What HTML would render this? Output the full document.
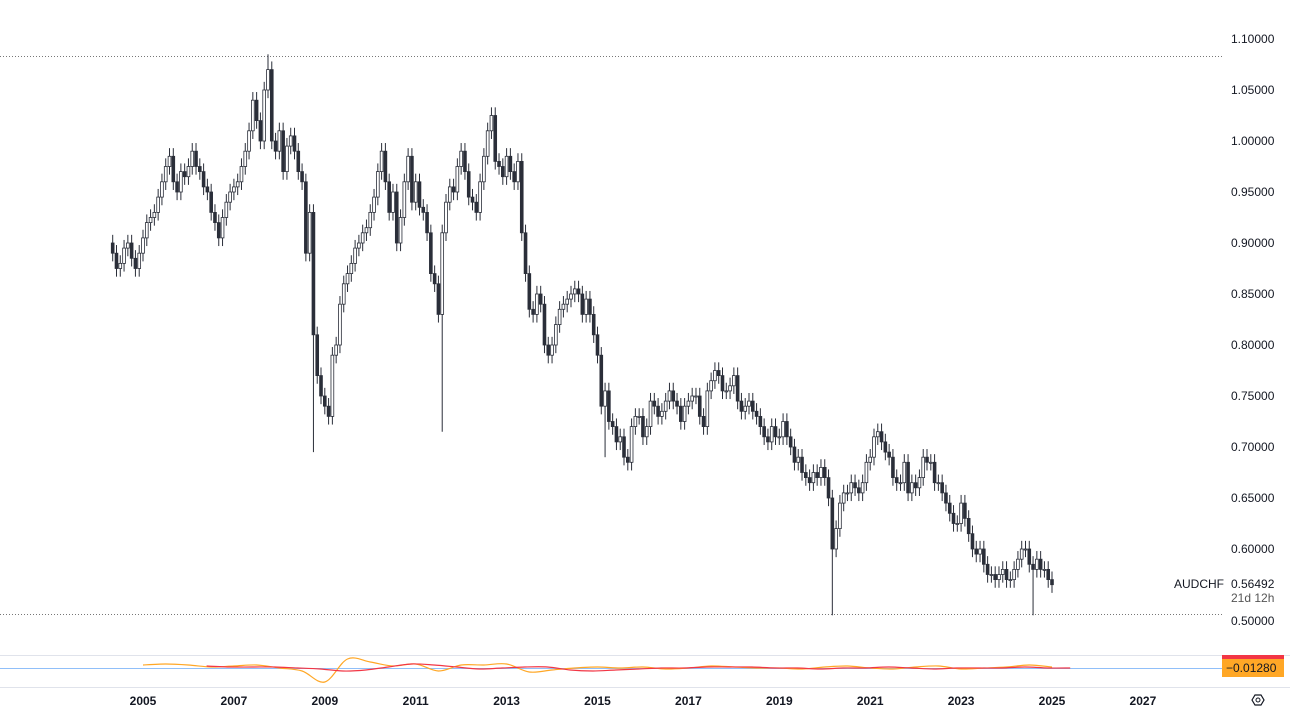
<!DOCTYPE html>
<html><head><meta charset="utf-8"><style>
body{margin:0;background:#fff;font-family:"Liberation Sans",sans-serif;}
svg{display:block}
</style></head><body>
<svg id="chart" width="1290" height="717" xmlns="http://www.w3.org/2000/svg" font-family="Liberation Sans, sans-serif">
<rect width="1290" height="717" fill="#fff"/>
<g id="grid"></g>
<g id="candles"></g>
<g id="osc"></g>
<g id="axes"></g>
</svg>
<script>
const startYear = 2004 + 4/12; // May 2004
const closes = [
0.89,0.875,0.88,0.895,0.90,0.885,0.875,0.89,
0.905,0.92,0.925,0.93,0.945,0.96,0.975,0.985,0.96,0.95,0.97,0.965,
0.975,0.99,0.975,0.97,0.955,0.95,0.93,0.92,0.905,0.925,0.94,0.95,
0.955,0.96,0.975,0.99,1.01,1.04,1.02,1.00,1.05,1.07,1.00,0.99,
1.01,0.97,0.995,1.005,0.99,0.97,0.96,0.89,0.93,0.81,0.77,0.75,
0.74,0.73,0.79,0.80,0.84,0.86,0.87,0.88,0.895,0.90,0.91,0.915,
0.93,0.945,0.97,0.99,0.96,0.93,0.95,0.90,0.925,0.96,0.985,0.94,
0.96,0.935,0.93,0.91,0.87,0.86,0.83,0.91,0.94,0.955,0.95,0.975,
0.99,0.97,0.945,0.94,0.93,0.96,0.985,1.01,1.025,0.98,0.975,0.965,
0.985,0.97,0.96,0.98,0.91,0.87,0.835,0.83,0.85,0.84,0.80,0.79,
0.80,0.82,0.835,0.84,0.845,0.85,0.855,0.85,0.83,0.845,0.83,0.81,
0.79,0.74,0.755,0.725,0.72,0.705,0.71,0.69,0.685,0.72,0.73,0.73,
0.71,0.72,0.745,0.74,0.73,0.735,0.745,0.755,0.745,0.74,0.725,0.74,
0.745,0.75,0.75,0.73,0.72,0.755,0.765,0.775,0.77,0.755,0.755,0.76,
0.77,0.745,0.735,0.74,0.745,0.735,0.73,0.72,0.71,0.705,0.72,0.71,
0.71,0.725,0.71,0.70,0.685,0.69,0.675,0.67,0.665,0.675,0.67,0.68,
0.67,0.65,0.60,0.62,0.645,0.655,0.655,0.665,0.66,0.655,0.665,0.685,
0.69,0.71,0.715,0.705,0.695,0.69,0.67,0.665,0.665,0.685,0.655,0.665,
0.66,0.67,0.69,0.685,0.685,0.665,0.665,0.655,0.645,0.635,0.625,0.625,
0.645,0.63,0.615,0.60,0.595,0.60,0.585,0.575,0.575,0.57,0.575,0.58,
0.57,0.57,0.58,0.59,0.60,0.60,0.585,0.58,0.59,0.58,0.58,0.57,
0.565];
const spikeIdx = [41, 53, 87, 130, 190, 243];
const spikeVal = [1.085, 0.695, 0.715, 0.69, 0.535, 0.535];
const priceTicks = [1.10,1.05,1.00,0.95,0.90,0.85,0.80,0.75,0.70,0.65,0.60];
const yearTicks = [2005,2007,2009,2011,2013,2015,2017,2019,2021,2023,2025,2027];
const oscOrange = [3,4,3,1,2,3,0,-3,-14,9,6,2,4,-3,3,3,4,-4,-2,0,1,0,1,-1,0,2,1,0,0,-1,1,2,0,-1,1,2,-1,0,1,3,1];
const oscRed = [2,1,1,1,0,-1,-3,-2,1,4,3,1,-1,0,1,1,-2,-3,-2,-1,0,0,1,1,1,0,0,-1,0,0,1,0,-1,0,0,0,1,0,0];

const NS="http://www.w3.org/2000/svg";
const xOfYear = y => 143 + (y-2005)*45.45;
const yOfPrice = p => 39 + (1.10-p)*1020;
function mk(tag, attrs, parent){const e=document.createElementNS(NS,tag);for(const k in attrs)e.setAttribute(k,attrs[k]);parent.appendChild(e);return e;}
const grid=document.getElementById('grid'), cg=document.getElementById('candles'), og=document.getElementById('osc'), ax=document.getElementById('axes');

let l1=mk('line',{x1:0,x2:1222,y1:56.5,y2:56.5,stroke:'#777','stroke-dasharray':'1 2'},grid);


let l2=mk('line',{x1:0,x2:1222,y1:614.5,y2:614.5,stroke:'#777','stroke-dasharray':'1 2'},grid);



for(let i=0;i<closes.length;i++){
  const c=closes[i], o=i>0?closes[i-1]:c+0.01;
  let hi=Math.max(o,c)+0.008, lo=Math.min(o,c)-0.008;
  const s=spikeIdx.indexOf(i);
  if(s>=0){ if(spikeVal[s]>hi)hi=spikeVal[s]; else lo=spikeVal[s]; }
  const x=xOfYear(startYear+i/12);
  const w=mk('line',{x1:x,x2:x,y1:yOfPrice(hi),y2:yOfPrice(lo),stroke:'#2a2e39','stroke-width':1},cg);
  
  
  const top=yOfPrice(Math.max(o,c)), bot=yOfPrice(Math.min(o,c));
  const b=mk('rect',{x:x-1.4,y:top,width:2.8,height:Math.max(1,bot-top),fill:c>=o?'#fff':'#2a2e39',stroke:'#2a2e39','stroke-width':0.8},cg);
  
  
}

priceTicks.forEach(p=>{
  const t=mk('text',{x:1231,y:yOfPrice(p)+4,'font-size':12,fill:'#131722'},ax);
  t.textContent=p.toFixed(5);
  
  
});
let t5=mk('text',{x:1231,y:625,'font-size':12,fill:'#131722'},ax);t5.textContent='0.50000';


let sym=mk('text',{x:1174,y:588,'font-size':12,fill:'#131722'},ax);sym.textContent='AUDCHF';


let lp=mk('text',{x:1231,y:588,'font-size':12,fill:'#131722'},ax);lp.textContent='0.56492';


let cd=mk('text',{x:1231,y:602,'font-size':12,fill:'#555'},ax);cd.textContent='21d 12h';



let sep=mk('line',{x1:0,x2:1290,y1:655.5,y2:655.5,stroke:'#e0e3eb'},og);


let base=mk('line',{x1:0,x2:1222,y1:668.5,y2:668.5,stroke:'#90bff9'},og);


function path(arr,start){
  const pts=arr.map((v,i)=>[xOfYear(start+i/2),668-v]);
  let d='M'+pts[0][0].toFixed(1)+','+pts[0][1].toFixed(1);
  for(let i=1;i<pts.length;i++){
    const p0=pts[Math.max(0,i-2)],p1=pts[i-1],p2=pts[i],p3=pts[Math.min(pts.length-1,i+1)];
    const c1=[p1[0]+(p2[0]-p0[0])/6,p1[1]+(p2[1]-p0[1])/6],c2=[p2[0]-(p3[0]-p1[0])/6,p2[1]-(p3[1]-p1[1])/6];
    d+=' C'+c1.map(n=>n.toFixed(1)).join(',')+' '+c2.map(n=>n.toFixed(1)).join(',')+' '+p2.map(n=>n.toFixed(1)).join(',');
  }
  return d;
}
let po=mk('path',{d:path(oscOrange,2005),fill:'none',stroke:'#ffa726','stroke-width':1.2},og);


let pr=mk('path',{d:path(oscRed,2006.4),fill:'none',stroke:'#f23645','stroke-width':1.2},og);


let rb=mk('rect',{x:1222,y:655,width:62,height:5,fill:'#f23645'},og);


let ob=mk('rect',{x:1222,y:659,width:62,height:18,fill:'#ffa726'},og);


let ot=mk('text',{x:1226,y:672,'font-size':12,fill:'#131722'},og);ot.textContent='\u22120.01280';



let tl=mk('line',{x1:0,x2:1290,y1:687.5,y2:687.5,stroke:'#e0e3eb'},ax);


yearTicks.forEach(y=>{
  const t=mk('text',{x:xOfYear(y),y:705,'font-size':12,'font-weight':'bold',fill:'#131722','text-anchor':'middle'},ax);
  t.textContent=y;
  
  
});
let gear=mk('polygon',{points:'1252,700 1255,695 1261,695 1264,700 1261,705 1255,705',fill:'none',stroke:'#131722','stroke-width':1.2},ax);


mk('circle',{cx:1258,cy:700,r:2,fill:'none',stroke:'#131722'},ax);
</script>
</body></html>
